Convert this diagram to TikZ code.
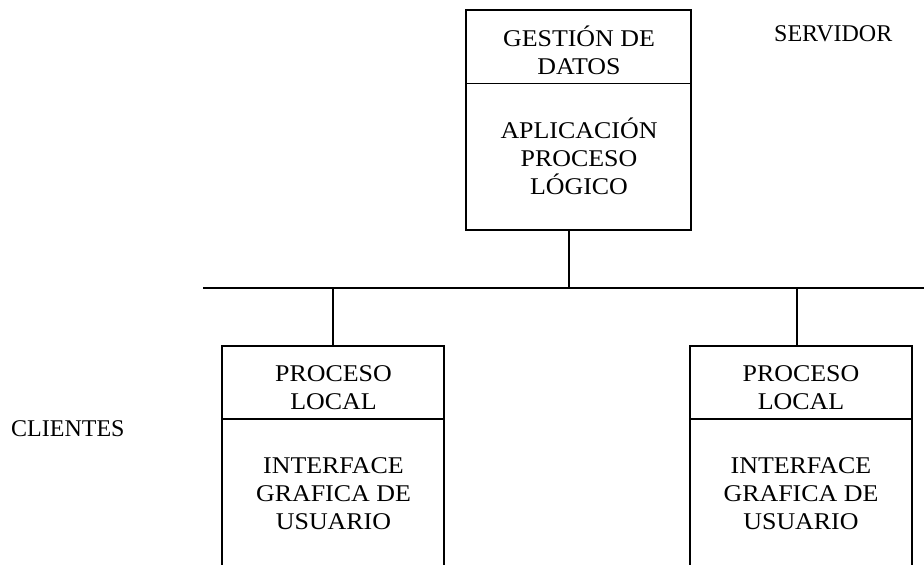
\documentclass[tikz,border=0pt]{standalone}
\usepackage{fontspec}
\setmainfont{Liberation Serif}
\newfontfamily\boxfont[FakeStretch=1.08]{Liberation Serif}
\begin{document}
\begin{tikzpicture}[x=1pt,y=-1pt,
  box/.style={draw, line width=1.6pt, inner sep=0pt, outer sep=0pt, anchor=north west},
  lbl/.style={font=\boxfont\fontsize{24}{27.8}\selectfont, align=center, anchor=base, inner sep=0pt},
  side/.style={font=\fontsize{24}{27.6}\selectfont, anchor=base west, inner sep=0pt},
  wire/.style={line width=1.6pt}]
\useasboundingbox (0,0) rectangle (924,565);
\clip (0,0) rectangle (924,565);
% server
\node[box, minimum width=225pt, minimum height=73.5pt] (srvA) at (466,10) {};
\node[box, minimum width=225pt, minimum height=146.5pt] (srvB) at (466,83.5) {};
\node[lbl] (srvAt) at (579,74.3) {GESTIÓN DE\\DATOS};
\node[lbl] (srvBt) at (579,194) {APLICACIÓN\\PROCESO\\LÓGICO};
\node[side] (servidor) at (774,41) {SERVIDOR};
% clients
\node[box, minimum width=222pt, minimum height=73pt] (c1A) at (222,346) {};
\node[box, minimum width=222pt, minimum height=250pt] (c1B) at (222,419) {};
\node[lbl] (c1At) at (333.5,409.5) {PROCESO\\LOCAL};
\node[lbl] (c1Bt) at (333.5,529.3) {INTERFACE\\GRAFICA DE\\USUARIO};
\node[box, minimum width=222pt, minimum height=73pt] (c2A) at (690,346) {};
\node[box, minimum width=222pt, minimum height=250pt] (c2B) at (690,419) {};
\node[lbl] (c2At) at (801,409.5) {PROCESO\\LOCAL};
\node[lbl] (c2Bt) at (801,529.3) {INTERFACE\\GRAFICA DE\\USUARIO};
\node[side] (clientes) at (11,436) {CLIENTES};
% bus and connectors
\coordinate (busL) at (203,288);
\coordinate (busR) at (924,288);
\draw[wire] (busL) -- (busR);
\coordinate (srvTap) at (569,230);
\draw[wire] (srvTap) -- (srvTap |- busL);
\coordinate (c1Tap) at (333,346);
\draw[wire] (c1Tap |- busL) -- (c1Tap);
\coordinate (c2Tap) at (797,346);
\draw[wire] (c2Tap |- busL) -- (c2Tap);
\end{tikzpicture}
\end{document}
